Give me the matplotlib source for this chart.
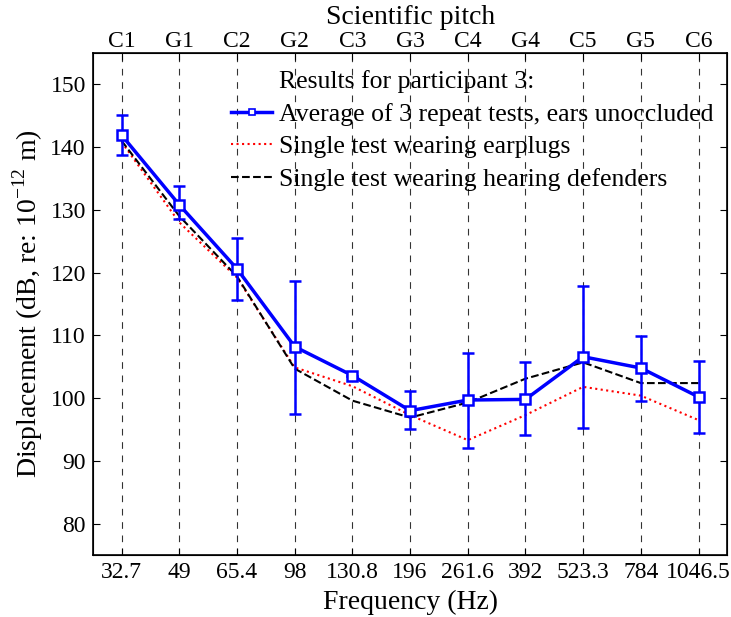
import matplotlib
matplotlib.use("Agg")
import matplotlib.pyplot as plt
from matplotlib.lines import Line2D
import numpy as np

plt.rcParams['font.family'] = ['Liberation Serif', 'DejaVu Serif']
plt.rcParams['mathtext.fontset'] = 'custom'
plt.rcParams['mathtext.rm'] = 'Liberation Serif'

freq_labels = ["32.7", "49", "65.4", "98", "130.8", "196", "261.6", "392", "523.3", "784", "1046.5"]
pitch_labels = ["C1", "G1", "C2", "G2", "C3", "G3", "C4", "G4", "C5", "G5", "C6"]

avg_unoccluded = [141.9, 130.8, 120.6, 108.2, 103.6, 98.0, 99.7, 99.8, 106.6, 104.8, 100.2]
err_upper = [145.2, 133.8, 125.5, 118.7, 103.6, 101.1, 107.2, 105.7, 117.9, 109.9, 105.9]
err_lower = [138.7, 128.5, 115.7, 97.5, 103.6, 95.1, 92.1, 94.1, 95.3, 99.6, 94.4]
earplugs = [140.8, 128.0, 119.2, 104.9, 101.9, 97.3, 93.3, 97.3, 101.8, 100.4, 96.5]
defenders = [141.0, 129.0, 119.4, 104.7, 99.6, 96.9, 99.3, 103.1, 105.7, 102.4, 102.4]

x = np.arange(len(freq_labels))
avg = np.array(avg_unoccluded)
yerr = np.vstack([avg - np.array(err_lower), np.array(err_upper) - avg])

fig = plt.figure(figsize=(7.31, 6.17), dpi=100)
ax = fig.add_axes([0.127, 0.1005, 0.868, 0.8135])

for xi in x:
    ax.axvline(xi, color='black', linestyle=(0, (6, 6)), linewidth=0.8, alpha=0.8, zorder=1)

ax.plot(x, earplugs, color='red', linestyle=':', linewidth=1.5, zorder=3)
ax.plot(x, defenders, color='black', linestyle='--', linewidth=1.5, zorder=3)
ax.errorbar(x, avg, yerr=yerr, color='blue', linewidth=2.5, elinewidth=1.8,
            capsize=4.5, capthick=1.8, marker='s', markersize=7, markerfacecolor='white',
            markeredgecolor='blue', markeredgewidth=1.8, zorder=4)

ax.set_xlim(-0.5, 10.5)
ax.set_ylim(75, 155)
ax.set_xticks(x)
ax.set_xticklabels(freq_labels)
ax.set_yticks(np.arange(80, 151, 10))
ax.tick_params(direction='in', labelsize=17, length=5, right=True, top=False, pad=5)
for sp in ax.spines.values():
    sp.set_linewidth(1.2)

ax2 = ax.twiny()
ax2.set_xlim(ax.get_xlim())
ax2.set_xticks(x)
ax2.set_xticklabels(pitch_labels)
ax2.tick_params(direction='in', labelsize=17, length=5, pad=1)
ax2.set_xlabel("Scientific pitch", fontsize=20, labelpad=5)

ax.set_xlabel("Frequency (Hz)", fontsize=20, labelpad=5)
ax.set_ylabel(r"Displacement (dB, re: 10$^{\mathregular{-12}}$ m)", fontsize=20, labelpad=4)

handles = [
    Line2D([], [], color='none'),
    Line2D([], [], color='blue', linewidth=2.5, marker='s', markersize=5,
           markerfacecolor='white', markeredgecolor='blue', markeredgewidth=1.2),
    Line2D([], [], color='red', linestyle=':', linewidth=1.5),
    Line2D([], [], color='black', linestyle='--', linewidth=1.5),
]
labels = ["Results for participant 3:",
          "Average of 3 repeat tests, ears unoccluded",
          "Single test wearing earplugs",
          "Single test wearing hearing defenders"]
ax.legend(handles, labels, loc='upper right', frameon=False, fontsize=18.5,
          handlelength=1.6, handletextpad=0.25, labelspacing=0.37,
          bbox_to_anchor=(1.0, 0.994), borderaxespad=0.15)

fig.savefig("out.png", dpi=100)
